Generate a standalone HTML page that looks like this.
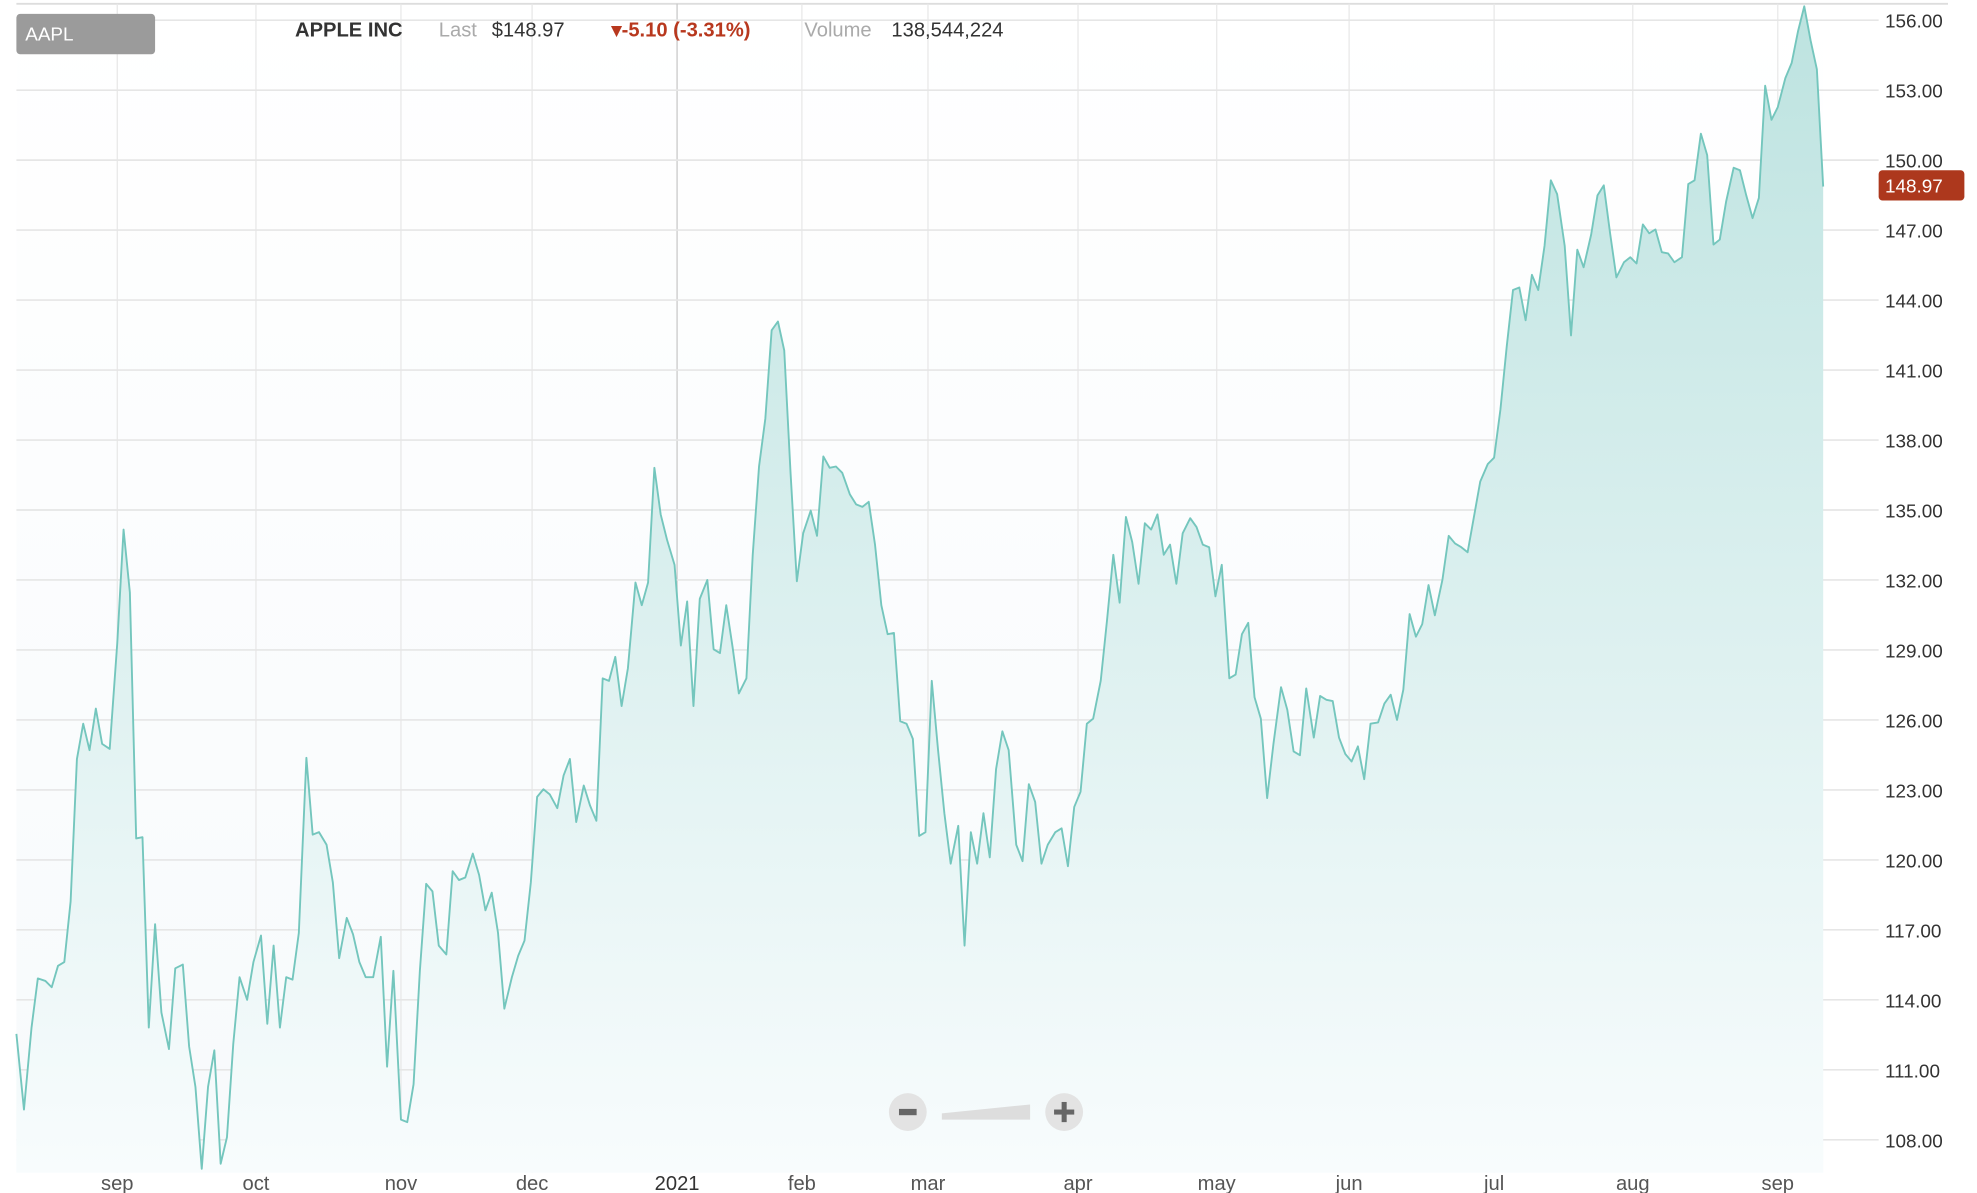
<!DOCTYPE html>
<html><head><style>html,body{margin:0;padding:0;background:#fff;overflow:hidden}</style></head><body>
<svg width="1977" height="1193" viewBox="0 0 1568 946.2" xmlns="http://www.w3.org/2000/svg" style="display:block;font-family:'Liberation Sans',sans-serif">
<defs>
<linearGradient id="g" x1="0" y1="0" x2="0" y2="1"><stop offset="0" stop-color="#bde3e0"/><stop offset="1" stop-color="#f8fcfd"/></linearGradient>
<linearGradient id="bg" x1="0" y1="0" x2="0" y2="1"><stop offset="0" stop-color="#fff"/><stop offset="1" stop-color="#f7fafc"/></linearGradient>
</defs>
<rect x="13" y="0" width="1433" height="930" fill="url(#bg)"/>
<line x1="13" y1="3" x2="1545" y2="3" stroke="#ddd" stroke-width="1.5"/>
<g stroke="#e8e8e8" stroke-width="1">
<line x1="93" y1="3" x2="93" y2="930"/><line x1="203" y1="3" x2="203" y2="930"/><line x1="318" y1="3" x2="318" y2="930"/><line x1="422" y1="3" x2="422" y2="930"/><line x1="636" y1="3" x2="636" y2="930"/><line x1="736" y1="3" x2="736" y2="930"/><line x1="855" y1="3" x2="855" y2="930"/><line x1="965" y1="3" x2="965" y2="930"/><line x1="1070" y1="3" x2="1070" y2="930"/><line x1="1185" y1="3" x2="1185" y2="930"/><line x1="1295" y1="3" x2="1295" y2="930"/><line x1="1410" y1="3" x2="1410" y2="930"/>
</g>
<line x1="537" y1="3" x2="537" y2="930" stroke="#c8c8c8" stroke-width="1"/>
<g stroke="#e6e6e6" stroke-width="1.3">
<line x1="13" y1="16" x2="1490" y2="16"/><line x1="13" y1="71.5" x2="1490" y2="71.5"/><line x1="13" y1="127" x2="1490" y2="127"/><line x1="13" y1="182.5" x2="1490" y2="182.5"/><line x1="13" y1="238" x2="1490" y2="238"/><line x1="13" y1="293.5" x2="1490" y2="293.5"/><line x1="13" y1="349" x2="1490" y2="349"/><line x1="13" y1="404.5" x2="1490" y2="404.5"/><line x1="13" y1="460" x2="1490" y2="460"/><line x1="13" y1="515.5" x2="1490" y2="515.5"/><line x1="13" y1="571" x2="1490" y2="571"/><line x1="13" y1="626.5" x2="1490" y2="626.5"/><line x1="13" y1="682" x2="1490" y2="682"/><line x1="13" y1="737.5" x2="1490" y2="737.5"/><line x1="13" y1="793" x2="1490" y2="793"/><line x1="13" y1="848.5" x2="1490" y2="848.5"/><line x1="13" y1="904" x2="1490" y2="904"/>
</g>
<polygon id="area" fill="url(#g)" points="13,930 13,820 19,880 25,815 30,776 36,778 41,783 46,766 51,763 56,715 61,602 66,574 71,595 76,562 81,590 87,594 93,510 98,420 103,470 108,665 113,664 118,815 123,733 128,803 134,832 139,768 145,765 150,830 155,862 160,927 165,862 170,833 175,923 180,902 185,828 190,775 196,793 201,763 207,742 212,812 217,750 222,815 227,775 232,777 237,740 243,601 248,662 253,660 259,670 264,700 269,760 275,728 280,741 285,763 290,775 296,775 302,743 307,846 312,770 318,888 323,890 328,860 333,770 338,701 343,707 348,750 354,757 359,691 364,698 369,696 375,677 380,694 385,722 390,708 395,740 400,800 406,775 411,758 416,746 421,700 426,632 431,626 436,630 442,641 447,615 452,602 457,652 463,623 468,639 473,651 478,538 483,540 488,521 493,560 498,530 504,462 509,480 514,462 519,371 524,408 529,428 535,448 540,512 545,477 550,560 555,475 561,460 566,515 571,518 576,480 581,513 586,550 592,538 597,440 602,370 607,332 612,262 617,255 622,278 627,375 632,461 637,423 643,405 648,425 653,362 658,371 663,370 668,375 674,392 679,400 684,402 689,398 694,432 699,480 704,503 709,502 714,572 719,574 724,586 729,663 734,660 739,540 744,595 749,645 754,685 760,655 765,750 770,660 775,685 780,645 785,680 790,610 795,580 800,595 806,670 811,683 816,622 821,636 826,685 831,670 837,660 842,657 847,687 852,640 857,628 862,574 867,570 873,540 878,492 883,440 888,478 893,410 898,430 903,463 908,415 913,420 918,408 923,440 928,432 933,463 938,423 944,411 949,418 954,432 959,434 964,473 969,448 975,538 980,535 985,503 990,494 995,553 1000,570 1005,633 1010,590 1016,545 1021,563 1026,596 1031,599 1036,546 1042,585 1047,552 1052,555 1057,556 1062,585 1067,598 1072,604 1077,592 1082,618 1087,574 1093,573 1098,558 1103,551 1108,571 1113,547 1118,487 1123,505 1128,495 1133,464 1138,488 1144,460 1149,425 1154,431 1159,434 1164,438 1169,410 1174,382 1180,368 1185,363 1190,325 1195,275 1200,230 1205,228 1210,254 1215,218 1220,230 1225,195 1230,143 1235,154 1241,195 1246,266 1251,198 1256,212 1262,186 1267,155 1272,147 1277,185 1282,220 1288,208 1293,204 1298,209 1303,178 1308,185 1313,182 1318,200 1323,201 1328,208 1334,204 1339,146 1344,143 1349,106 1354,123 1359,194 1364,190 1369,160 1375,133 1380,135 1385,155 1390,173 1395,157 1400,68 1405,95 1410,85 1416,62 1421,50 1426,25 1431,5 1436,32 1441,55 1446,148 1446,930"/>
<polyline fill="none" stroke="#74c6bd" stroke-width="1.5" stroke-linejoin="round" points="13,820 19,880 25,815 30,776 36,778 41,783 46,766 51,763 56,715 61,602 66,574 71,595 76,562 81,590 87,594 93,510 98,420 103,470 108,665 113,664 118,815 123,733 128,803 134,832 139,768 145,765 150,830 155,862 160,927 165,862 170,833 175,923 180,902 185,828 190,775 196,793 201,763 207,742 212,812 217,750 222,815 227,775 232,777 237,740 243,601 248,662 253,660 259,670 264,700 269,760 275,728 280,741 285,763 290,775 296,775 302,743 307,846 312,770 318,888 323,890 328,860 333,770 338,701 343,707 348,750 354,757 359,691 364,698 369,696 375,677 380,694 385,722 390,708 395,740 400,800 406,775 411,758 416,746 421,700 426,632 431,626 436,630 442,641 447,615 452,602 457,652 463,623 468,639 473,651 478,538 483,540 488,521 493,560 498,530 504,462 509,480 514,462 519,371 524,408 529,428 535,448 540,512 545,477 550,560 555,475 561,460 566,515 571,518 576,480 581,513 586,550 592,538 597,440 602,370 607,332 612,262 617,255 622,278 627,375 632,461 637,423 643,405 648,425 653,362 658,371 663,370 668,375 674,392 679,400 684,402 689,398 694,432 699,480 704,503 709,502 714,572 719,574 724,586 729,663 734,660 739,540 744,595 749,645 754,685 760,655 765,750 770,660 775,685 780,645 785,680 790,610 795,580 800,595 806,670 811,683 816,622 821,636 826,685 831,670 837,660 842,657 847,687 852,640 857,628 862,574 867,570 873,540 878,492 883,440 888,478 893,410 898,430 903,463 908,415 913,420 918,408 923,440 928,432 933,463 938,423 944,411 949,418 954,432 959,434 964,473 969,448 975,538 980,535 985,503 990,494 995,553 1000,570 1005,633 1010,590 1016,545 1021,563 1026,596 1031,599 1036,546 1042,585 1047,552 1052,555 1057,556 1062,585 1067,598 1072,604 1077,592 1082,618 1087,574 1093,573 1098,558 1103,551 1108,571 1113,547 1118,487 1123,505 1128,495 1133,464 1138,488 1144,460 1149,425 1154,431 1159,434 1164,438 1169,410 1174,382 1180,368 1185,363 1190,325 1195,275 1200,230 1205,228 1210,254 1215,218 1220,230 1225,195 1230,143 1235,154 1241,195 1246,266 1251,198 1256,212 1262,186 1267,155 1272,147 1277,185 1282,220 1288,208 1293,204 1298,209 1303,178 1308,185 1313,182 1318,200 1323,201 1328,208 1334,204 1339,146 1344,143 1349,106 1354,123 1359,194 1364,190 1369,160 1375,133 1380,135 1385,155 1390,173 1395,157 1400,68 1405,95 1410,85 1416,62 1421,50 1426,25 1431,5 1436,32 1441,55 1446,148"/>
<g font-size="15" fill="#333">
<text x="1495" y="22">156.00</text><text x="1495" y="77.5">153.00</text><text x="1495" y="133">150.00</text><text x="1495" y="188.5">147.00</text><text x="1495" y="244">144.00</text><text x="1495" y="299.5">141.00</text><text x="1495" y="355">138.00</text><text x="1495" y="410.5">135.00</text><text x="1495" y="466">132.00</text><text x="1495" y="521.5">129.00</text><text x="1495" y="577">126.00</text><text x="1495" y="632.5">123.00</text><text x="1495" y="688">120.00</text><text x="1495" y="743.5">117.00</text><text x="1495" y="799">114.00</text><text x="1495" y="854.5">111.00</text><text x="1495" y="910">108.00</text>
</g>
<rect x="1490" y="135" width="68" height="24" rx="3" fill="#ad381d"/>
<text x="1495" y="152.5" font-size="15" fill="#fff">148.97</text>
<g font-size="16" fill="#555" text-anchor="middle">
<text x="93" y="944">sep</text><text x="203" y="944">oct</text><text x="318" y="944">nov</text><text x="422" y="944">dec</text><text x="537" y="944" fill="#333">2021</text><text x="636" y="944">feb</text><text x="736" y="944">mar</text><text x="855" y="944">apr</text><text x="965" y="944">may</text><text x="1070" y="944">jun</text><text x="1185" y="944">jul</text><text x="1295" y="944">aug</text><text x="1410" y="944">sep</text>
</g>
<rect x="13" y="11" width="110" height="32" rx="3" fill="#9b9b9b"/>
<text x="20" y="32" font-size="15" fill="#fff">AAPL</text>
<text x="234" y="29" font-size="16" font-weight="bold" fill="#333">APPLE INC</text>
<text x="348" y="29" font-size="16" fill="#aaa">Last</text>
<text x="390" y="29" font-size="16" fill="#333">$148.97</text>
<text x="485" y="29" font-size="16" font-weight="bold" fill="#b8381e">▾-5.10 (-3.31%)</text>
<text x="638" y="29" font-size="16" fill="#aaa">Volume</text>
<text x="707" y="29" font-size="16" fill="#333">138,544,224</text>
<ellipse cx="720" cy="882" rx="15" ry="15" fill="#e3e3e3"/>
<rect x="713" y="879.5" width="14" height="5" fill="#666"/>
<polygon points="747,883 817,876 817,888 747,888" fill="#ddd"/>
<ellipse cx="844" cy="882" rx="15" ry="15" fill="#e3e3e3"/>
<rect x="836" y="880" width="16" height="4" fill="#666"/><rect x="842" y="874" width="4" height="16" fill="#666"/>
</svg>
</body></html>
